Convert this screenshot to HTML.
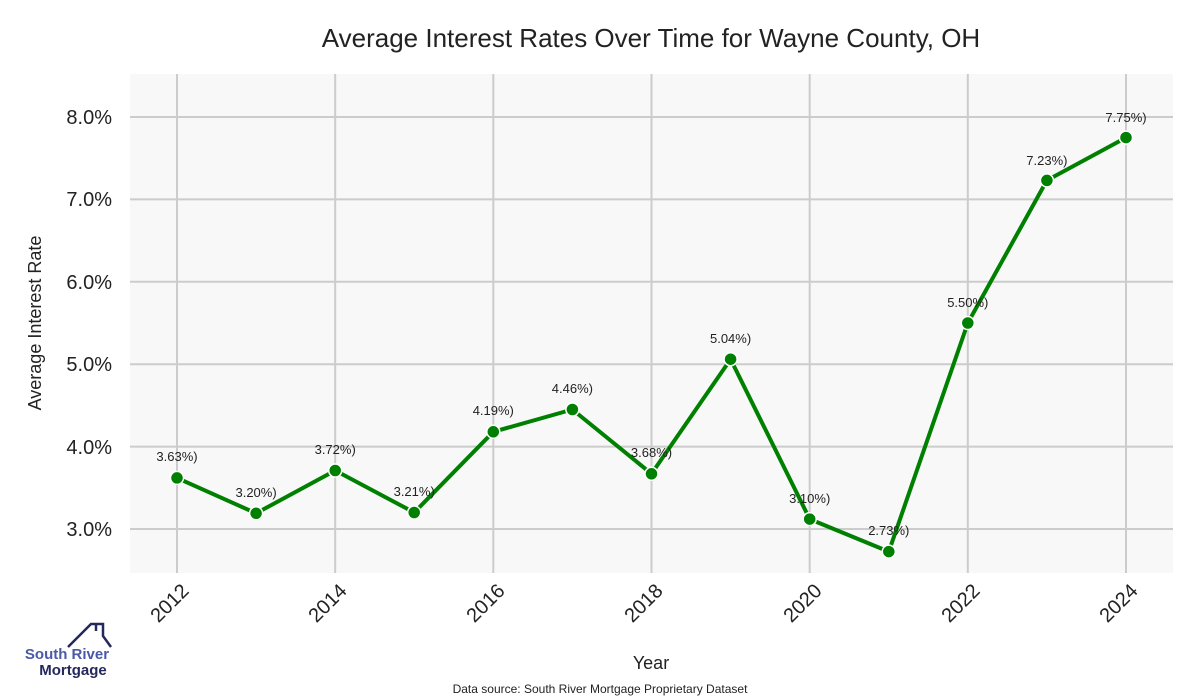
<!DOCTYPE html>
<html><head><meta charset="utf-8"><style>body{margin:0;background:#fff}svg{display:block}text{font-family:"Liberation Sans",sans-serif}</style></head><body>
<svg width="1200" height="700" xmlns="http://www.w3.org/2000/svg">
<rect width="1200" height="700" fill="#fff"/>
<text x="651" y="47" font-size="26" text-anchor="middle" fill="#222">Average Interest Rates Over Time for Wayne County, OH</text>
<rect x="130" y="74" width="1043" height="499" fill="#f8f8f8"/>
<g stroke="#cccccc" stroke-width="2">
<line x1="130" x2="1173" y1="117" y2="117"/><line x1="130" x2="1173" y1="199.4" y2="199.4"/><line x1="130" x2="1173" y1="281.8" y2="281.8"/><line x1="130" x2="1173" y1="364.2" y2="364.2"/><line x1="130" x2="1173" y1="446.6" y2="446.6"/><line x1="130" x2="1173" y1="529" y2="529"/>
<line y1="74" y2="573" x1="177" x2="177"/><line y1="74" y2="573" x1="335.2" x2="335.2"/><line y1="74" y2="573" x1="493.3" x2="493.3"/><line y1="74" y2="573" x1="651.5" x2="651.5"/><line y1="74" y2="573" x1="809.7" x2="809.7"/><line y1="74" y2="573" x1="967.8" x2="967.8"/><line y1="74" y2="573" x1="1126" x2="1126"/>
</g>
<g font-size="20" fill="#222" text-anchor="end">
<text x="112" y="124">8.0%</text><text x="112" y="206">7.0%</text><text x="112" y="289">6.0%</text><text x="112" y="371">5.0%</text><text x="112" y="454">4.0%</text><text x="112" y="536">3.0%</text>
</g>
<g font-size="20" fill="#222" text-anchor="end">
<text transform="translate(190,592) rotate(-45)">2012</text>
<text transform="translate(348,592) rotate(-45)">2014</text>
<text transform="translate(506,592) rotate(-45)">2016</text>
<text transform="translate(664,592) rotate(-45)">2018</text>
<text transform="translate(823,592) rotate(-45)">2020</text>
<text transform="translate(981,592) rotate(-45)">2022</text>
<text transform="translate(1139,592) rotate(-45)">2024</text>
</g>
<text x="651" y="669" font-size="18" text-anchor="middle" fill="#222">Year</text>
<text transform="translate(41,323) rotate(-90)" font-size="18" text-anchor="middle" fill="#222">Average Interest Rate</text>
<polyline fill="none" stroke="#008000" stroke-width="4" stroke-linejoin="round" points="177,477.9 256.1,513.3 335.2,470.5 414.2,512.5 493.3,431.8 572.4,409.5 651.5,473.8 730.6,359.2 809.7,519.1 888.8,551.6 967.8,323 1046.9,180.4 1126,137.6"/>
<g fill="#008000" stroke="#fff" stroke-width="1.5">
<circle cx="177" cy="477.9" r="6.5"/><circle cx="256.1" cy="513.3" r="6.5"/><circle cx="335.2" cy="470.5" r="6.5"/><circle cx="414.2" cy="512.5" r="6.5"/><circle cx="493.3" cy="431.8" r="6.5"/><circle cx="572.4" cy="409.5" r="6.5"/><circle cx="651.5" cy="473.8" r="6.5"/><circle cx="730.6" cy="359.2" r="6.5"/><circle cx="809.7" cy="519.1" r="6.5"/><circle cx="888.8" cy="551.6" r="6.5"/><circle cx="967.8" cy="323" r="6.5"/><circle cx="1046.9" cy="180.4" r="6.5"/><circle cx="1126" cy="137.6" r="6.5"/>
</g>
<g font-size="13" fill="#222" text-anchor="middle">
<text x="177" y="461">3.63%)</text><text x="256.1" y="497">3.20%)</text><text x="335.2" y="454">3.72%)</text><text x="414.2" y="496">3.21%)</text><text x="493.3" y="415">4.19%)</text><text x="572.4" y="393">4.46%)</text><text x="651.5" y="457">3.68%)</text><text x="730.6" y="343">5.04%)</text><text x="809.7" y="503">3.10%)</text><text x="888.8" y="535">2.73%)</text><text x="967.8" y="307">5.50%)</text><text x="1046.9" y="165">7.23%)</text><text x="1126" y="122">7.75%)</text>
</g>
<text x="600" y="693" font-size="12" text-anchor="middle" fill="#222">Data source: South River Mortgage Proprietary Dataset</text>
<polyline points="68,647 91,624 103,624 103,636 111,647" fill="none" stroke="#24285a" stroke-width="2.5"/>
<polyline points="96,624 96,631" fill="none" stroke="#24285a" stroke-width="2.5"/>
<text x="67" y="659" font-size="15" font-weight="bold" fill="#4a5aa8" text-anchor="middle">South River</text>
<text x="73" y="675" font-size="15" font-weight="bold" fill="#24285a" text-anchor="middle">Mortgage</text>
</svg>
</body></html>
